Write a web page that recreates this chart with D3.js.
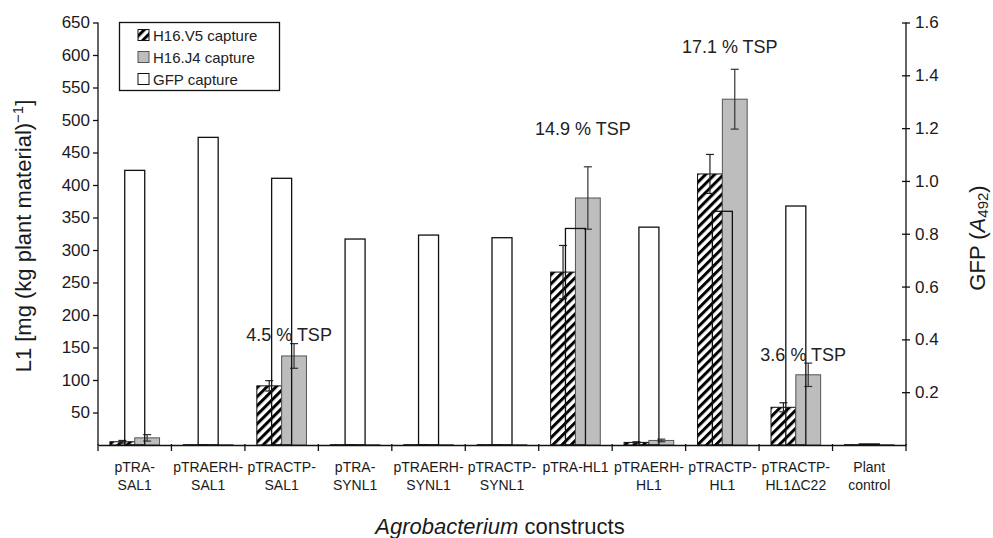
<!DOCTYPE html>
<html>
<head>
<meta charset="utf-8">
<script src="https://cdn.jsdelivr.net/npm/d3@7"></script>
<style>
  body { margin: 0; background: #fff; }
  svg { display: block; font-family: "Liberation Sans", Arial, sans-serif; }
</style>
</head>
<body>
<svg width="993" height="538"></svg>
<script>
// Data
const constructs = ["pTRA-\nSAL1", "pTRAERH-\nSAL1", "pTRACTP-\nSAL1", "pTRA-\nSYNL1", "pTRAERH-\nSYNL1",
  "pTRACTP-\nSYNL1", "pTRA-HL1", "pTRAERH-\nHL1", "pTRACTP-\nHL1", "pTRACTP-\nHL1\u0394C22", "Plant\ncontrol"];
const v5Capture = [5, 0.5, 91, 0.5, 0.5, 0.5, 266, 4, 417, 58, 0.5];
const v5Error = [2, 0, 8, 0, 0, 0, 41, 1, 30, 7, 0];
const j4Capture = [11, 0.5, 137, 0.5, 0.5, 0.5, 380, 7, 532, 108, 0.5];
const j4Error = [5, 0, 19, 0, 0, 0, 48, 2, 46, 18, 0];
const gfpCapture = [1.04, 1.165, 1.01, 0.78, 0.795, 0.785, 0.82, 0.825, 0.885, 0.905, 0.004];
const leftTicks = [50, 100, 150, 200, 250, 300, 350, 400, 450, 500, 550, 600, 650];
const rightTicks = [0.2, 0.4, 0.6, 0.8, 1.0, 1.2, 1.4, 1.6];
const tspText = ["4.5 % TSP", "14.9 % TSP", "17.1 % TSP", "3.6 % TSP"];
const tspConstruct = ["pTRACTP-\nSAL1", "pTRA-HL1", "pTRACTP-\nHL1", "pTRACTP-\nHL1\u0394C22"];
const tspLevel = [160, 477, 603, 129];
const legendNames = ["H16.V5 capture", "H16.J4 capture", "GFP capture"];

const svg = d3.select("svg");
const plotLeft = 98, plotRight = 906, plotTop = 22.5, plotBottom = 445;

// Hatch pattern for H16.V5
const defs = svg.append("defs");
defs.append("pattern")
    .attr("id", "hatch")
    .attr("patternUnits", "userSpaceOnUse")
    .attr("width", 6.4).attr("height", 6.4)
    .attr("patternTransform", "rotate(45)")
  .append("rect")
    .attr("width", 3).attr("height", 6.4)
    .attr("fill", "#000");

// Scales
const x = d3.scaleBand().domain(constructs).range([plotLeft, plotRight]);
const inner = d3.scaleBand().domain(["v5", "j4"]).range([0, x.bandwidth()]).paddingOuter(0.48);
const yL = d3.scaleLinear().domain([0, 650]).range([plotBottom, plotTop]);
const yR = d3.scaleLinear().domain([0, 1.6]).range([plotBottom, plotTop]);
const gfpWidth = 20;

const rows = constructs.map((c, i) => ({
  c, v5: v5Capture[i], v5e: v5Error[i], j4: j4Capture[i], j4e: j4Error[i], gfp: gfpCapture[i]
}));

const plot = svg.append("g");

// H16.V5 bars (hatched)
plot.selectAll(".v5").data(rows).join("rect")
    .attr("class", "v5")
    .attr("x", d => x(d.c) + inner("v5"))
    .attr("width", inner.bandwidth())
    .attr("y", d => yL(d.v5))
    .attr("height", d => yL(0) - yL(d.v5))
    .attr("fill", "url(#hatch)")
    .attr("stroke", "#111").attr("stroke-width", 1);

// H16.J4 bars (grey)
plot.selectAll(".j4").data(rows).join("rect")
    .attr("class", "j4")
    .attr("x", d => x(d.c) + inner("j4"))
    .attr("width", inner.bandwidth())
    .attr("y", d => yL(d.j4))
    .attr("height", d => yL(0) - yL(d.j4))
    .attr("fill", "#bdbdbd")
    .attr("stroke", "#555").attr("stroke-width", 1);

// error bars
function errorBars(key, errKey, color) {
  const g = plot.append("g").attr("stroke", color).attr("stroke-width", 1.2);
  rows.filter(d => d[errKey] > 0).forEach(d => {
    const cx = x(d.c) + inner(key) + inner.bandwidth() / 2;
    const y1 = yL(d[key] + d[errKey]), y2 = yL(d[key] - d[errKey]);
    g.append("line").attr("x1", cx).attr("x2", cx).attr("y1", y1).attr("y2", y2);
    g.append("line").attr("x1", cx - 4).attr("x2", cx + 4).attr("y1", y1).attr("y2", y1);
    g.append("line").attr("x1", cx - 4).attr("x2", cx + 4).attr("y1", y2).attr("y2", y2);
  });
}
errorBars("v5", "v5e", "#222");
errorBars("j4", "j4e", "#333");

// GFP bars (secondary axis, open outline on top)
plot.selectAll(".gfp").data(rows).join("rect")
    .attr("class", "gfp")
    .attr("x", d => x(d.c) + x.bandwidth() / 2 - gfpWidth / 2)
    .attr("width", gfpWidth)
    .attr("y", d => yR(d.gfp))
    .attr("height", d => yR(0) - yR(d.gfp))
    .attr("fill", "none")
    .attr("stroke", "#111").attr("stroke-width", 1.3);

// Axes
const axisL = svg.append("g")
    .attr("transform", `translate(${plotLeft},0)`)
    .call(d3.axisLeft(yL).tickValues(leftTicks).tickSize(5).tickPadding(3));
const axisR = svg.append("g")
    .attr("transform", `translate(${plotRight},0)`)
    .call(d3.axisRight(yR).tickValues(rightTicks).tickSize(4).tickPadding(5).tickFormat(d3.format(".1f")));
axisR.selectAll(".tick line").attr("x1", -4);
const axisB = svg.append("g")
    .attr("transform", `translate(0,${plotBottom})`)
    .call(d3.axisBottom(x).tickSize(0).tickFormat(""));

[axisL, axisR, axisB].forEach(a => {
  a.select(".domain").attr("stroke", "#111").attr("stroke-width", 1.3);
  a.selectAll(".tick line").attr("stroke", "#111").attr("stroke-width", 1.3);
  a.selectAll(".tick text").attr("font-size", 17).attr("fill", "#1a1a1a")
    .attr("font-family", "Liberation Sans, Arial, sans-serif");
});
axisL.select(".domain").attr("d", `M0,${plotBottom}V${plotTop}`);
axisR.select(".domain").attr("d", `M0,${plotBottom}V${plotTop}`);

// category boundary ticks
axisB.selectAll(".bound").data(d3.range(constructs.length + 1)).join("line")
    .attr("class", "bound")
    .attr("x1", i => plotLeft + i * x.step()).attr("x2", i => plotLeft + i * x.step())
    .attr("y1", -1).attr("y2", 6)
    .attr("stroke", "#111").attr("stroke-width", 1.3);

// category labels
const catLabels = svg.append("g")
    .attr("font-size", 14).attr("fill", "#1a1a1a").attr("text-anchor", "middle");
constructs.forEach(c => {
  const t = catLabels.append("text").attr("x", x(c) + x.bandwidth() / 2).attr("y", 472);
  c.split("\n").forEach((line, i) => {
    t.append("tspan").attr("x", x(c) + x.bandwidth() / 2).attr("dy", i ? 18 : 0).text(line);
  });
});

// TSP annotations
tspText.forEach((txt, i) => {
  svg.append("text")
      .attr("x", x(tspConstruct[i]) + inner("j4") + inner.bandwidth() / 2 - 5)
      .attr("y", yL(tspLevel[i]))
      .attr("text-anchor", "middle")
      .attr("font-size", 18).attr("fill", "#222")
      .text(txt);
});

// axis titles
svg.append("text")
    .attr("transform", "translate(31,236) rotate(-90)")
    .attr("text-anchor", "middle").attr("font-size", 22).attr("fill", "#1a1a1a")
    .call(t => {
      t.append("tspan").text("L1 [mg (kg plant material)");
      t.append("tspan").attr("font-size", 15).attr("dy", -8).text("\u22121");
      t.append("tspan").attr("dy", 8).text("]");
    });

svg.append("text")
    .attr("transform", "translate(985,238) rotate(-90)")
    .attr("text-anchor", "middle").attr("font-size", 22).attr("fill", "#1a1a1a")
    .call(t => {
      t.append("tspan").text("GFP (");
      t.append("tspan").attr("font-style", "italic").text("A");
      t.append("tspan").attr("font-size", 15).attr("dy", 3).text("492");
      t.append("tspan").attr("dy", -3).text(")");
    });

svg.append("text")
    .attr("x", 500).attr("y", 534)
    .attr("text-anchor", "middle").attr("font-size", 22).attr("fill", "#1a1a1a")
    .call(t => {
      t.append("tspan").attr("font-style", "italic").text("Agrobacterium");
      t.append("tspan").text(" constructs");
    });

// Legend
const legend = svg.append("g");
legend.append("rect")
    .attr("x", 119.5).attr("y", 22.5).attr("width", 160).attr("height", 68)
    .attr("fill", "#fff").attr("stroke", "#111").attr("stroke-width", 1.3);
const swatchFill = ["url(#hatch)", "#bdbdbd", "#fff"];
const swatchStroke = ["#111", "#555", "#111"];
legendNames.forEach((name, i) => {
  const cy = 35 + i * 22;
  legend.append("rect")
      .attr("x", 138).attr("y", cy - 5.5).attr("width", 11).attr("height", 11)
      .attr("fill", swatchFill[i]).attr("stroke", swatchStroke[i]).attr("stroke-width", 1);
  legend.append("text")
      .attr("x", 153).attr("y", cy + 5.5)
      .attr("font-size", 15).attr("fill", "#222")
      .text(name);
});
</script>
</body>
</html>
